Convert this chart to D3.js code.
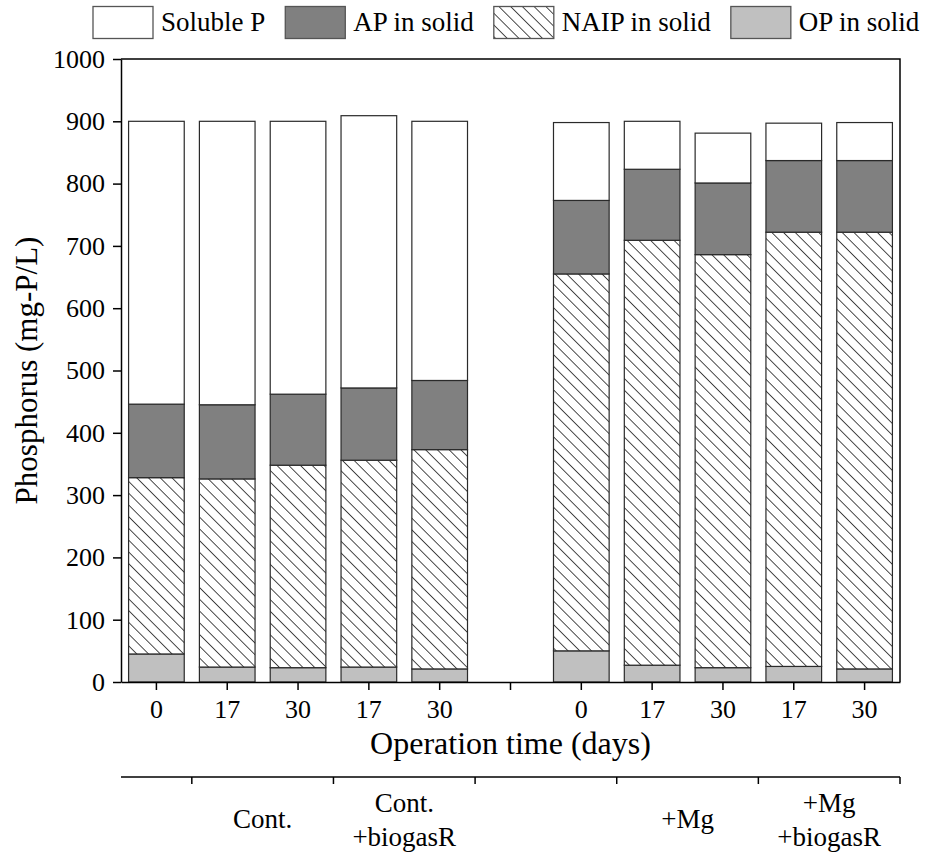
<!DOCTYPE html>
<html>
<head>
<meta charset="utf-8">
<script src="https://cdn.jsdelivr.net/npm/d3@7"></script>
<style>
  html, body { margin: 0; padding: 0; background: #fff; }
  svg { display: block; }
  svg text { font-family: "Liberation Serif", "Times New Roman", serif; fill: #000; }
</style>
</head>
<body>
<svg id="chart" width="936" height="854"></svg>
<script>
// Sampling days for each bar slot (slot 5 is the empty spacer between the two groups)
const days = ["0", "17", "30", "17", "30", "", "0", "17", "30", "17", "30"];

// Phosphorus fractions, mg-P/L (segment heights, stacked bottom to top)
const opSolid   = [45, 24, 23, 24, 21, 0, 50, 27, 23, 25, 21];
const naipSolid = [283, 302, 325, 332, 352, 0, 605, 682, 663, 697, 701];
const apSolid   = [118, 119, 114, 116, 111, 0, 118, 114, 115, 115, 115];
const solubleP  = [454, 455, 438, 437, 416, 0, 125, 77, 80, 60, 61];

const seriesNames = ["OP in solid", "NAIP in solid", "AP in solid", "Soluble P"];
const legendOrder = ["Soluble P", "AP in solid", "NAIP in solid", "OP in solid"];

// Treatment groups shown beneath the day axis
const groupLabels = [["Cont."], ["Cont.", "+biogasR"], ["+Mg"], ["+Mg", "+biogasR"]];
const groupFirstSlot = [1, 3, 7, 9];
const groupBoundaries = [1, 3, 5, 7, 9, 11];

const yTicks = [0, 100, 200, 300, 400, 500, 600, 700, 800, 900, 1000];

const FONT = "Liberation Serif";
const svg = d3.select("#chart");
const margin = { left: 121, right: 900, top: 59, bottom: 682 };

const x = d3.scaleBand()
  .domain(d3.range(days.length))
  .range([margin.left, margin.right])
  .paddingInner(0.2)
  .paddingOuter(0.1);

const slotW = (margin.right - margin.left) / days.length;

const y = d3.scaleLinear().domain([0, 1000]).range([margin.bottom, margin.top]);

// hatch pattern for the non-apatite inorganic P
const defs = svg.append("defs");
const pat = defs.append("pattern")
  .attr("id", "hatch")
  .attr("patternUnits", "userSpaceOnUse")
  .attr("width", 8.3)
  .attr("height", 8.3)
  .attr("patternTransform", "rotate(45)");
pat.append("rect").attr("width", 8.3).attr("height", 8.3).attr("fill", "#fff");
pat.append("line")
  .attr("x1", 0).attr("y1", 0).attr("x2", 8.3).attr("y2", 0)
  .attr("stroke", "#000").attr("stroke-width", 1.4);

const fills = {
  "Soluble P": "#ffffff",
  "AP in solid": "#808080",
  "NAIP in solid": "url(#hatch)",
  "OP in solid": "#c0c0c0"
};

const rows = days.map((d, i) => ({
  i,
  "OP in solid": opSolid[i],
  "NAIP in solid": naipSolid[i],
  "AP in solid": apSolid[i],
  "Soluble P": solubleP[i]
}));

const stacked = d3.stack().keys(seriesNames)(rows);

const barG = svg.append("g");
stacked.forEach(layer => {
  barG.append("g")
    .selectAll("rect")
    .data(layer.filter(d => d[1] - d[0] > 0))
    .join("rect")
    .attr("x", d => x(d.data.i) + 0.5)
    .attr("width", x.bandwidth() - 1)
    .attr("y", d => y(d[1]))
    .attr("height", d => y(d[0]) - y(d[1]))
    .attr("fill", fills[layer.key])
    .attr("stroke", "#2a2a2a")
    .attr("stroke-width", 1.2);
});

// frame
svg.append("path")
  .attr("d", `M${margin.left},${margin.top}H${margin.right}V${margin.bottom}`)
  .attr("fill", "none").attr("stroke", "#000").attr("stroke-width", 1.5);

// y axis
const yAxis = svg.append("g")
  .attr("transform", `translate(${margin.left},0)`)
  .call(d3.axisLeft(y).tickValues(yTicks).tickFormat(d3.format("d"))
    .tickSize(8).tickPadding(8).tickSizeOuter(0));
yAxis.attr("font-family", FONT);
yAxis.select(".domain").attr("stroke-width", 1.5);
yAxis.selectAll(".tick line").attr("stroke-width", 1.5);
yAxis.selectAll("text").attr("font-size", 26).attr("font-family", FONT).attr("fill", "#000");

// x axis (days)
const xAxis = svg.append("g")
  .attr("transform", `translate(0,${margin.bottom})`)
  .call(d3.axisBottom(x).tickFormat(i => days[i]).tickSize(8).tickPadding(10).tickSizeOuter(0));
xAxis.attr("font-family", FONT);
xAxis.select(".domain").attr("stroke-width", 1.5);
xAxis.selectAll(".tick line").attr("stroke-width", 1.5);
xAxis.selectAll("text").attr("font-size", 26).attr("font-family", FONT).attr("fill", "#000");

// axis titles
svg.append("text")
  .attr("x", (margin.left + margin.right) / 2)
  .attr("y", 754)
  .attr("text-anchor", "middle")
  .attr("font-family", FONT)
  .attr("font-size", 32)
  .text("Operation time (days)");

svg.append("text")
  .attr("transform", `translate(37,${(margin.top + margin.bottom) / 2}) rotate(-90)`)
  .attr("text-anchor", "middle")
  .attr("font-family", FONT)
  .attr("font-size", 31)
  .text("Phosphorus (mg-P/L)");

// treatment group axis
const gy = 777;
const gAxis = svg.append("g");
gAxis.append("line")
  .attr("x1", margin.left).attr("x2", margin.right)
  .attr("y1", gy).attr("y2", gy)
  .attr("stroke", "#000").attr("stroke-width", 1.5);
gAxis.selectAll("line.gt")
  .data(groupBoundaries)
  .join("line")
  .attr("class", "gt")
  .attr("x1", b => margin.left + b * slotW)
  .attr("x2", b => margin.left + b * slotW)
  .attr("y1", gy).attr("y2", gy + 7)
  .attr("stroke", "#000").attr("stroke-width", 1.5);

groupLabels.forEach((lines, k) => {
  const cx = margin.left + (groupFirstSlot[k] + 1) * slotW;
  const t = gAxis.append("text")
    .attr("text-anchor", "middle")
    .attr("font-family", FONT)
    .attr("font-size", 27);
  const base = lines.length === 1 ? 828 : 812;
  lines.forEach((ln, j) => {
    t.append("tspan").attr("x", cx).attr("y", base + j * 34).text(ln);
  });
});

// legend
const leg = svg.append("g");
let lx = 93;
legendOrder.forEach(name => {
  leg.append("rect")
    .attr("x", lx).attr("y", 6.5)
    .attr("width", 60).attr("height", 32)
    .attr("fill", fills[name])
    .attr("stroke", "#555").attr("stroke-width", 1.3);
  const t = leg.append("text")
    .attr("x", lx + 68).attr("y", 31)
    .attr("font-family", FONT)
    .attr("font-size", 27)
    .text(name);
  lx = lx + 68 + t.node().getComputedTextLength() + 20;
});
</script>
</body>
</html>
